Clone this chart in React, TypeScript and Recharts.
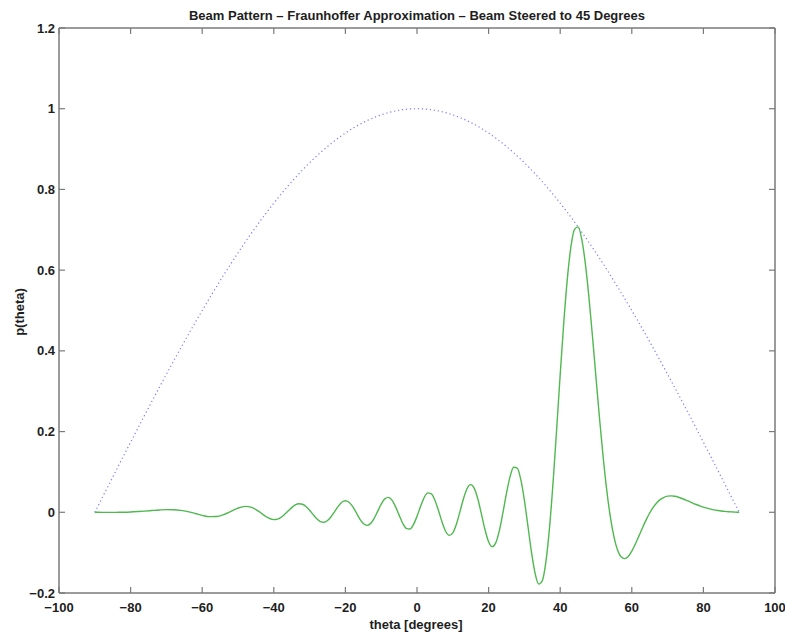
import React from "react";
import { LineChart, Line, XAxis, YAxis } from "recharts";

const TITLE = "Beam Pattern \u2013 Fraunhoffer Approximation \u2013 Beam Steered to 45 Degrees";
const X_LABEL = "theta [degrees]";
const Y_LABEL = "p(theta)";

const X_TICKS = [-100, -80, -60, -40, -20, 0, 20, 40, 60, 80, 100];
const Y_TICKS = [-0.2, 0, 0.2, 0.4, 0.6, 0.8, 1, 1.2];

// steering angle grid (degrees)
const THETA = [
  -90, -88, -86, -84, -82, -80, -78, -76, -74, -72,
  -70, -68, -66, -64, -62, -60, -58, -56, -54, -52,
  -50, -48, -46, -44, -42,
  -40, -39, -38, -37, -36, -35, -34, -33, -32, -31,
  -30, -29, -28, -27, -26, -25, -24, -23, -22, -21,
  -20, -19, -18, -17, -16, -15, -14, -13, -12, -11,
  -10, -9, -8, -7, -6, -5, -4, -3, -2, -1,
  0,
  1, 2, 3, 4, 5, 6, 7, 8, 9, 10,
  11, 12, 13, 14, 15, 16, 17, 18, 19, 20,
  21, 22, 23, 24, 25, 26, 27, 28, 29, 30,
  31, 32, 33, 34, 35, 36, 37, 38, 39, 40,
  41, 42, 43, 44, 45, 46, 47, 48, 49, 50,
  51, 52, 53, 54, 55, 56, 57, 58, 59, 60,
  61, 62, 63, 64, 65, 66, 67, 68, 69, 70,
  71, 72, 73, 74, 75, 76, 77, 78, 79, 80,
  81, 82, 83, 84, 85, 86, 87, 88, 89, 90,
];

// green: steered beam pattern
const PATTERN = [
  0, -0.0001, -0.0002, -0.0001, 0.0002, 0.0008, 0.0018, 0.003, 0.0044, 0.0057,
  0.0066, 0.0064, 0.0048, 0.0016, -0.0029, -0.0076, -0.0107, -0.0105, -0.006, 0.002,
  0.0104, 0.0147, 0.0114, 0.0009, -0.0117,
  -0.0181, -0.0169, -0.0124, -0.0054, 0.0032, 0.0116, 0.0182, 0.0213, 0.02, 0.0143,
  0.0051, -0.0059, -0.016, -0.023, -0.0247, -0.0205, -0.011, 0.0018, 0.0148, 0.0247,
  0.0285, 0.0249, 0.0145, -0.0005, -0.0161, -0.0279, -0.0325, -0.0281, -0.0155, 0.0023,
  0.0202, 0.0332, 0.037, 0.0301, 0.0139, -0.0071, -0.0272, -0.04, -0.0415, -0.0306,
  -0.01,
  0.0147, 0.0363, 0.048, 0.0459, 0.03, 0.0043, -0.0241, -0.0469, -0.0571, -0.051,
  -0.0297, 0.0016, 0.0342, 0.059, 0.0685, 0.0592, 0.0328, -0.0046, -0.0432, -0.0729,
  -0.0851, -0.0757, -0.0456, -0.0011, 0.0475, 0.0885, 0.1115, 0.1095, 0.0807, 0.0295,
  -0.035, -0.1001, -0.1519, -0.178, -0.1697, -0.1231, -0.0399, 0.0728, 0.2044, 0.3414,
  0.4703, 0.579, 0.6582, 0.7011, 0.7071, 0.6776, 0.6179, 0.5351, 0.4375, 0.3336,
  0.2312, 0.1368, 0.055, -0.011, -0.0602, -0.0928, -0.1103, -0.1149, -0.1093, -0.0962,
  -0.0785, -0.0585, -0.0381, -0.0188, -0.0017, 0.0126, 0.0238, 0.0319, 0.0372, 0.04,
  0.0406, 0.0396, 0.0373, 0.0342, 0.0306, 0.0268, 0.0229, 0.0193, 0.0159, 0.0128,
  0.0102, 0.0079, 0.006, 0.0045, 0.0032, 0.0023, 0.0015, 0.0009, 0.0004, 0,
];

// blue dotted: element envelope
const ENVELOPE = [
  0, 0.0349, 0.0698, 0.1045, 0.1392, 0.1736, 0.2079, 0.2419, 0.2756, 0.309,
  0.342, 0.3746, 0.4067, 0.4384, 0.4695, 0.5, 0.5299, 0.5592, 0.5878, 0.6157,
  0.6428, 0.6691, 0.6947, 0.7193, 0.7431,
  0.766, 0.7771, 0.788, 0.7986, 0.809, 0.8192, 0.829, 0.8387, 0.848, 0.8572,
  0.866, 0.8746, 0.8829, 0.891, 0.8988, 0.9063, 0.9135, 0.9205, 0.9272, 0.9336,
  0.9397, 0.9455, 0.9511, 0.9563, 0.9613, 0.9659, 0.9703, 0.9744, 0.9781, 0.9816,
  0.9848, 0.9877, 0.9903, 0.9925, 0.9945, 0.9962, 0.9976, 0.9986, 0.9994, 0.9998,
  1,
  0.9998, 0.9994, 0.9986, 0.9976, 0.9962, 0.9945, 0.9925, 0.9903, 0.9877, 0.9848,
  0.9816, 0.9781, 0.9744, 0.9703, 0.9659, 0.9613, 0.9563, 0.9511, 0.9455, 0.9397,
  0.9336, 0.9272, 0.9205, 0.9135, 0.9063, 0.8988, 0.891, 0.8829, 0.8746, 0.866,
  0.8572, 0.848, 0.8387, 0.829, 0.8192, 0.809, 0.7986, 0.788, 0.7771, 0.766,
  0.7547, 0.7431, 0.7314, 0.7193, 0.7071, 0.6947, 0.682, 0.6691, 0.6561, 0.6428,
  0.6293, 0.6157, 0.6018, 0.5878, 0.5736, 0.5592, 0.5446, 0.5299, 0.515, 0.5,
  0.4848, 0.4695, 0.454, 0.4384, 0.4226, 0.4067, 0.3907, 0.3746, 0.3584, 0.342,
  0.3256, 0.309, 0.2924, 0.2756, 0.2588, 0.2419, 0.225, 0.2079, 0.1908, 0.1736,
  0.1564, 0.1392, 0.1219, 0.1045, 0.0872, 0.0698, 0.0523, 0.0349, 0.0175, 0,
];

const data = THETA.map((t, i) => ({ theta: t, p: PATTERN[i], env: ENVELOPE[i] }));

const FONT = "'Liberation Sans', Arial, Helvetica, sans-serif";
const AXIS_COLOR = "#7a7a7a";
const TEXT_COLOR = "#1e1e1e";
const tickStyle = { fontSize: 13, fontWeight: 700, fill: TEXT_COLOR, fontFamily: FONT };

const fmt = (v: number) => {
  const r = Math.round(v * 10) / 10;
  return r < 0 ? "\u2212" + String(Math.abs(r)) : String(r);
};
const blank = () => "";

export default function App() {
  return (
    <div style={{ position: "absolute", left: 0, top: 0, width: 785, height: 635, background: "#fff" }}>
      <LineChart
        width={785}
        height={635}
        data={data}
        margin={{ top: 27, right: 9, bottom: 12, left: 9 }}
      >
        <XAxis
          dataKey="theta"
          type="number"
          domain={[-100, 100]}
          ticks={X_TICKS}
          allowDataOverflow
          height={30}
          tickSize={-6}
          tickMargin={16}
          tickFormatter={fmt}
          tick={tickStyle}
          stroke={AXIS_COLOR}
          axisLine={{ stroke: AXIS_COLOR, strokeWidth: 1.5 }}
          tickLine={{ stroke: AXIS_COLOR, strokeWidth: 1.2 }}
        />
        <XAxis
          xAxisId="top"
          orientation="top"
          dataKey="theta"
          type="number"
          domain={[-100, 100]}
          ticks={X_TICKS}
          allowDataOverflow
          height={1}
          tickSize={-6}
          tickMargin={0}
          tickFormatter={blank}
          stroke={AXIS_COLOR}
          axisLine={{ stroke: AXIS_COLOR, strokeWidth: 1.5 }}
          tickLine={{ stroke: AXIS_COLOR, strokeWidth: 1.2 }}
        />
        <YAxis
          type="number"
          domain={[-0.2, 1.2]}
          ticks={Y_TICKS}
          allowDataOverflow
          width={50}
          tickSize={-6}
          tickMargin={10}
          tickFormatter={fmt}
          tick={tickStyle}
          stroke={AXIS_COLOR}
          axisLine={{ stroke: AXIS_COLOR, strokeWidth: 1.5 }}
          tickLine={{ stroke: AXIS_COLOR, strokeWidth: 1.2 }}
        />
        <YAxis
          yAxisId="right"
          orientation="right"
          type="number"
          domain={[-0.2, 1.2]}
          ticks={Y_TICKS}
          allowDataOverflow
          width={1}
          tickSize={-6}
          tickMargin={0}
          tickFormatter={blank}
          stroke={AXIS_COLOR}
          axisLine={{ stroke: AXIS_COLOR, strokeWidth: 1.5 }}
          tickLine={{ stroke: AXIS_COLOR, strokeWidth: 1.2 }}
        />
        <Line
          dataKey="env"
          type="monotone"
          stroke="#7b7bff"
          strokeWidth={1.2}
          strokeDasharray="1.2 2.8"
          dot={false}
          activeDot={false}
          isAnimationActive={false}
        />
        <Line
          dataKey="p"
          type="monotone"
          stroke="#4fb84f"
          strokeWidth={1.4}
          dot={false}
          activeDot={false}
          isAnimationActive={false}
        />
      </LineChart>
      <svg
        width={785}
        height={635}
        style={{ position: "absolute", left: 0, top: 0, pointerEvents: "none" }}
      >
        <text x={417} y={20} textAnchor="middle" fontSize={13} fontWeight={700} fill={TEXT_COLOR} fontFamily={FONT}>
          {TITLE}
        </text>
        <text x={416} y={629} textAnchor="middle" fontSize={13} fontWeight={700} fill={TEXT_COLOR} fontFamily={FONT}>
          {X_LABEL}
        </text>
        <text
          transform="translate(24, 312) rotate(-90)"
          textAnchor="middle"
          fontSize={13}
          fontWeight={700}
          fill={TEXT_COLOR}
          fontFamily={FONT}
        >
          {Y_LABEL}
        </text>
      </svg>
    </div>
  );
}
